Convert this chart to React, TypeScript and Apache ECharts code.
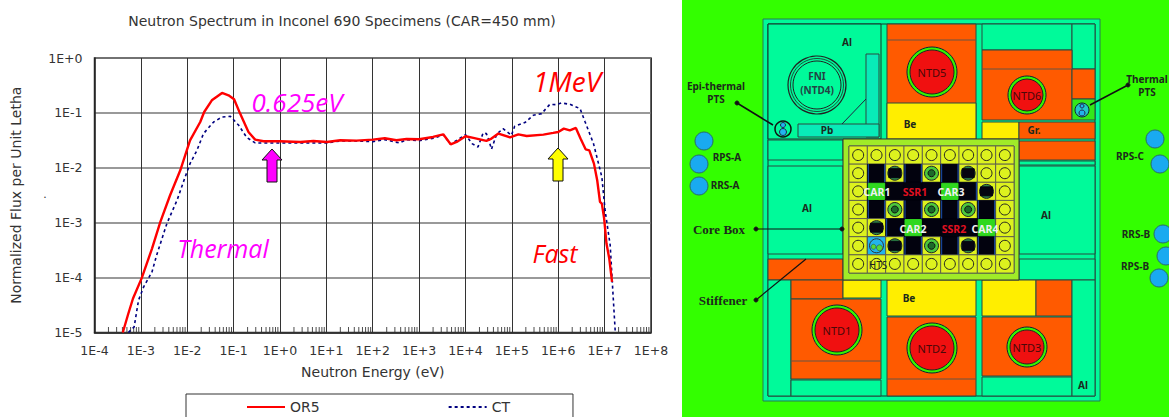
import React, { useEffect, useRef } from "react";
import * as echarts from "echarts";

const xTickLabels = ["1E-4","1E-3","1E-2","1E-1","1E+0","1E+1","1E+2","1E+3","1E+4","1E+5","1E+6","1E+7","1E+8"];
const yTickLabels = ["1E-5","1E-4","1E-3","1E-2","1E-1","1E+0"];

// log10(neutron energy, eV) and -log10(normalized flux)
const or5LogE = [-3.39,-3.27,-3.17,-2.98,-2.76,-2.58,-2.37,-2.15,-1.94,-1.72,-1.635,-1.47,-1.25,-1.11,-0.99,-0.86,-0.68,-0.535,-0.355,0,0.436,0.72,1.01,1.3,1.65,2,2.26,2.51,2.73,3,3.3,3.52,3.68,3.81,4,4.17,4.45,4.56,4.71,4.96,5.14,5.32,5.68,5.89,6,6.12,6.25,6.38,6.48,6.59,6.67,6.77,6.84,6.9,6.94,6.99,7.04,7.1,7.16];
const or5NegLogFlux = [5,4.654,4.381,4.005,3.471,2.985,2.5,2.045,1.499,1.165,0.983,0.771,0.637,0.68,0.752,1.013,1.347,1.487,1.517,1.517,1.529,1.511,1.529,1.499,1.505,1.487,1.462,1.499,1.475,1.481,1.438,1.39,1.572,1.529,1.426,1.456,1.511,1.468,1.377,1.444,1.39,1.42,1.396,1.365,1.347,1.286,1.317,1.274,1.468,1.663,1.681,1.924,2.227,2.621,2.652,2.925,3.38,3.653,4.078];
const ctLogE = [-3.27,-3.145,-3.05,-2.94,-2.76,-2.66,-2.44,-2.22,-2.045,-1.94,-1.79,-1.65,-1.43,-1.25,-1.07,-0.89,-0.715,-0.535,0,1.01,1.3,1.65,2,2.26,2.57,2.73,3,3.34,3.52,3.68,4,4.14,4.27,4.38,4.45,4.5,4.56,4.67,4.81,4.99,5.06,5.28,5.46,5.64,5.82,5.96,6.07,6.25,6.47,6.58,6.76,6.94,7.01,7.12,7.18,7.23];
const ctNegLogFlux = [5,4.897,4.411,4.169,3.896,3.592,3.016,2.591,2.166,1.924,1.681,1.377,1.165,1.074,1.062,1.226,1.45,1.547,1.547,1.547,1.511,1.511,1.523,1.487,1.547,1.487,1.505,1.456,1.396,1.572,1.396,1.559,1.62,1.365,1.377,1.487,1.663,1.39,1.286,1.408,1.244,1.177,1.044,1.013,0.843,0.85,0.819,0.843,0.922,1.165,1.559,2.166,2.773,3.41,4.29,5];

const toPairs = (xs: number[], ys: number[]) => xs.map((x, i) => [10 ** x, 10 ** -ys[i]]);

const decades = [-4,-3,-2,-1,0,1,2,3,4,5,6,7];
const multipliers = [2,3,4,5,6,7,8,9];
const minorTicks = decades.flatMap((d) => multipliers.map((m) => [m * 10 ** d, 1e-5]));

const ORANGE = "#FF5A00", YELLOW = "#FFEE00", TEAL = "#00FA9A", RED = "#F01010", LIME = "#33F500";
const LINE = "#2B4A40";

const rect = (x0: number, y0: number, x1: number, y1: number, fill: string, stroke = LINE, lineWidth = 1) => ({
  type: "rect", silent: true, shape: { x: x0, y: y0, width: x1 - x0, height: y1 - y0 }, style: { fill, stroke, lineWidth },
});
const circle = (cx: number, cy: number, r: number, fill: string, stroke = "#1a1a1a", lineWidth = 1) => ({
  type: "circle", silent: true, shape: { cx, cy, r }, style: { fill, stroke, lineWidth },
});
const seg = (x1: number, y1: number, x2: number, y2: number, stroke = "#111", lineWidth = 1) => ({
  type: "line", silent: true, shape: { x1, y1, x2, y2 }, style: { stroke, lineWidth },
});
const label = (x: number, y: number, text: string, fill = "#1c2a1c", font = "bold 10px 'Noto Sans'") => ({
  type: "text", silent: true, z: 20, x, y,
  style: { text, fill, font, align: "center", verticalAlign: "middle", textAlign: "center", textVerticalAlign: "middle" },
});
const arrow = (cx: number, top: number, bottom: number, fill: string) => ({
  type: "polygon", silent: true, z: 15,
  shape: { points: [[cx, top],[cx + 10, top + 11],[cx + 5, top + 11],[cx + 5, bottom],[cx - 5, bottom],[cx - 5, top + 11],[cx - 10, top + 11]] },
  style: { fill, stroke: "#111", lineWidth: 1 },
});
const reactor = (cx: number, cy: number, r: number, name: string) => [
  circle(cx, cy, r, LIME, "#123"),
  circle(cx, cy, r - 3, RED, "#222"),
  label(cx, cy, name, "#4a0808", "11px 'Noto Sans'"),
];

const coreRows = [
  "YYYYYYYYY",
  "YBDBGBDYY",
  "YBBBBBBDY",
  "YBGBGBGBY",
  "YDBBBBBBY",
  "YHDBGBDBY",
  "YYYYYYYYY",
];
const carCells = [[2,1],[2,5],[4,3],[4,7]];

function coreElements() {
  const out: any[] = [rect(843, 139, 1019, 280, "#A0EB28", "#333"), rect(849, 146, 1014, 273, "#000", "#444")];
  const w = (1014 - 849) / 9, h = (273 - 146) / 7;
  coreRows.forEach((row, r) => {
    [...row].forEach((c, i) => {
      const x = 849 + i * w, y = 146 + r * h, cx = x + w / 2, cy = y + h / 2;
      if (c === "B") {
        out.push(rect(x, y, x + w, y + h, "#02020e", "#02020e", 0.6));
        return;
      }
      out.push(rect(x, y, x + w, y + h, "#DDF21E", "#555", 0.8));
      if (c === "Y") out.push(circle(cx, cy, 5.5, "#DDF21E", "#222", 1));
      if (c === "D") { out.push(circle(cx, cy, 7, "#2E8B4A", "#222", 1)); out.push(rect(cx - 6, cy - 4.5, cx + 6, cy + 4.5, "#050510", "#050510")); }
      if (c === "G") { out.push(circle(cx, cy, 7, "#4CC83C", "#222", 1)); out.push(circle(cx, cy, 3.5, "#1c6a2a", "#111", 1)); }
      if (c === "H") {
        out.push(rect(x, y, x + w, y + h, "#22B4EC", "#444", 0.8));
        out.push(circle(cx, cy, 7, "#22B4EC", "#333", 1));
        out.push(circle(cx + 3, cy + 2, 3, "#52D93C", "#333", 0.5));
        out.push(circle(cx - 3, cy + 1, 2.5, "#52D93C", "#333", 0.5));
      }
    });
  });
  coreRows.forEach((row, r) => {
    [...row].forEach((c, i) => {
      if (c !== "B") return;
      const x = 849 + i * w, y = 146 + r * h;
      if (row[i - 1] !== "B") out.push(seg(x + 1, y, x + 1, y + h, "#1A4FB0", 1));
      if (row[i + 1] !== "B") out.push(seg(x + w - 1, y, x + w - 1, y + h, "#1A4FB0", 1));
    });
  });
  carCells.forEach(([r, i]) => {
    const x = 849 + i * w, y = 146 + r * h;
    out.push(rect(x + 1, y + 1, x + w - 1, y + h - 1, "#2FD81E", "#2FD81E"));
  });
  const white = "bold 10.5px 'Noto Sans'";
  out.push(label(877, 192, "CAR1", "#F0F0F0", white), label(951, 192, "CAR3", "#F0F0F0", white),
    label(913, 229, "CAR2", "#F0F0F0", white), label(985, 229, "CAR4", "#F0F0F0", white),
    label(915, 192, "SSR1", "#E01020", white), label(954, 229, "SSR2", "#E01020", white),
    label(878, 265, "HTS", "#222", "10px 'Noto Sans'"));
  return out;
}

function schematic() {
  const serif = "bold 13px 'Liberation Serif'";
  return [
    rect(682, 0, 1169, 417, "#33FF00", "none", 0),
    rect(763, 19, 1100, 401, TEAL, "#2A7A55"),
    rect(768, 24, 1095, 396, TEAL, "#17352b"),
    // top left
    rect(768, 24, 881, 139, TEAL, "#17352b"),
    rect(866, 54, 879, 137, "#08EBB8", LINE),
    rect(798, 124, 879, 137, "#08EBB8", LINE),
    seg(842, 124, 866, 99, "#224"),
    circle(817, 85, 29, TEAL, "#222", 1.2), circle(817, 85, 26.5, TEAL, "#222", 0.8), circle(817, 85, 24, TEAL, "#222", 1),
    label(817, 76, "FNI", "#244", "bold 10px 'Noto Sans'"), label(817, 90, "(NTD4)", "#244", "bold 10px 'Noto Sans'"),
    circle(783, 129, 8, TEAL, "#111", 1.5), circle(783, 125, 2.5, "#22B4EC", "#225"), circle(783, 132, 3.5, "#22B4EC", "#225"),
    label(847, 42, "Al"), label(827, 130, "Pb"),
    // top middle
    rect(887, 24, 976, 139, ORANGE, LINE), seg(887, 40, 976, 40, "#654"), rect(887, 103, 976, 139, YELLOW, LINE),
    ...reactor(932, 72, 25, "NTD5"), label(910, 124, "Be"),
    // top right
    rect(982, 24, 1072, 50, TEAL, LINE), rect(1072, 24, 1095, 69, TEAL, LINE),
    rect(982, 50, 1072, 120, ORANGE, LINE), seg(982, 69, 1072, 69, "#654"),
    rect(1072, 69, 1095, 99, ORANGE, LINE), rect(1072, 99, 1095, 120, "#33E81A", LINE),
    circle(1082, 110, 7, "#22C8C8", "#123"), circle(1082, 106, 2, "#22B4EC", "#225"), circle(1082, 113, 3, "#22B4EC", "#225"),
    ...reactor(1027, 95, 19, "NTD6"),
    rect(982, 122, 1019, 139, YELLOW, LINE), rect(1019, 122, 1095, 139, ORANGE, LINE), rect(1019, 141, 1095, 160, ORANGE, LINE),
    rect(1019, 161, 1095, 165, TEAL, LINE), rect(1019, 166, 1095, 254, TEAL, LINE), rect(1019, 259, 1095, 280, TEAL, LINE),
    label(1034, 130, "Gr."), label(1046, 215, "Al"),
    // left band
    rect(768, 140, 843, 160, TEAL, LINE), rect(768, 166, 843, 254, TEAL, LINE), rect(768, 259, 843, 280, ORANGE, LINE),
    label(807, 208, "Al"),
    // bottom left
    rect(768, 280, 791, 396, TEAL, LINE), rect(791, 280, 843, 299, ORANGE, LINE), rect(843, 280, 881, 298, YELLOW, LINE),
    rect(791, 299, 881, 379, ORANGE, LINE), seg(791, 361, 881, 361, "#654"), rect(791, 380, 881, 396, TEAL, LINE),
    ...reactor(837, 330, 25, "NTD1"),
    // bottom middle
    rect(887, 280, 976, 316, YELLOW, LINE), rect(887, 317, 976, 396, ORANGE, LINE), seg(887, 379, 976, 379, "#654"),
    ...reactor(932, 348, 25, "NTD2"), label(909, 298, "Be"),
    // bottom right
    rect(982, 280, 1036, 316, YELLOW, LINE), rect(1036, 280, 1072, 316, ORANGE, LINE),
    rect(982, 317, 1072, 376, ORANGE, LINE), rect(982, 377, 1072, 396, TEAL, LINE), rect(1072, 280, 1095, 396, TEAL, LINE),
    ...reactor(1027, 347, 20, "NTD3"), label(1083, 385, "Al"),
    ...coreElements(),
    // outside circles
    circle(704, 141, 9, "#19AAF0", "#2a6a6a"), circle(699, 164, 9, "#19AAF0", "#2a6a6a"), circle(699, 186, 9, "#19AAF0", "#2a6a6a"),
    circle(1155, 139, 9, "#19AAF0", "#2a6a6a"), circle(1160, 164, 9, "#19AAF0", "#2a6a6a"),
    circle(1163, 234, 9, "#19AAF0", "#2a6a6a"), circle(1166, 256, 9, "#19AAF0", "#2a6a6a"), circle(1159, 278, 9, "#19AAF0", "#2a6a6a"),
    // callouts
    seg(737, 103, 773, 125, "#111", 1.5), circle(737, 103, 2, "#111"),
    seg(1128, 85, 1090, 105, "#111", 1.5), circle(1128, 85, 2, "#111"),
    seg(756, 229, 843, 229, "#111", 1.2), circle(756, 229, 2, "#111"), circle(842, 229, 2, "#111"),
    seg(756, 300, 806, 259, "#111", 1.2), circle(756, 300, 2, "#111"),
    label(716, 86, "Epi-thermal"), label(716, 99, "PTS"),
    label(1147, 79, "Thermal"), label(1147, 92, "PTS"),
    label(727, 157, "RPS-A"), label(725, 185, "RRS-A"), label(1130, 156, "RPS-C"),
    label(1136, 234, "RRS-B"), label(1135, 266, "RPS-B"),
    label(719, 229, "Core Box", "#1c2a1c", serif), label(723, 300, "Stiffener", "#1c2a1c", serif),
  ];
}

function chartNotes() {
  const big = "italic 25px 'Open Sans'";
  return [
    label(297, 102, "0.625eV", "#FF00FF", "italic 26px 'Open Sans'"),
    label(567, 81, "1MeV", "#FF0000", "italic 28px 'Open Sans'"),
    label(223, 248, "Thermal", "#FF00FF", big),
    label(555, 253, "Fast", "#FF0000", big),
    arrow(272, 149, 182, "#FF00FF"),
    arrow(558, 148, 181, "#FFFF00"),
    label(45, 193, ".", "#333", "11px 'Noto Sans'"),
  ];
}

export default function App() {
  const ref = useRef<HTMLDivElement>(null);
  useEffect(() => {
    const chart = echarts.init(ref.current!, undefined, { renderer: "svg" });
    const font = "'DejaVu Sans'";
    chart.setOption({
      animation: false,
      backgroundColor: "#fff",
      title: {
        text: "Neutron Spectrum in Inconel 690 Specimens (CAR=450 mm)",
        left: 337, top: 9, textAlign: "center",
        textStyle: { fontSize: 14, fontWeight: "normal", color: "#333", fontFamily: font },
      },
      grid: { left: 94.5, top: 58, width: 556.5, height: 274.5, show: true, borderColor: "#333", borderWidth: 1.5, backgroundColor: "#fff" },
      legend: {
        left: 186, top: 394, orient: "horizontal", data: ["OR5", "CT"],
        padding: [6, 63, 8, 60], itemGap: 128, itemWidth: 38, itemHeight: 12,
        borderColor: "#333", borderWidth: 1, backgroundColor: "#fff",
        itemStyle: { opacity: 0 },
        textStyle: { fontSize: 14, color: "#333", fontFamily: font },
      },
      xAxis: {
        type: "log", logBase: 10, min: 1e-4, max: 1e8, interval: 1,
        name: "Neutron Energy (eV)", nameLocation: "middle", nameGap: 32,
        nameTextStyle: { fontSize: 14, color: "#333", fontFamily: font },
        axisLine: { show: true, onZero: false, lineStyle: { color: "#222", width: 1.5 } },
        axisTick: { show: false }, minorTick: { show: false },
        splitLine: { show: true, lineStyle: { color: "#333", width: 1 } },
        axisLabel: {
          interval: 0, margin: 11, fontSize: 12.5, color: "#333", fontFamily: font, showMinLabel: true, showMaxLabel: true,
          formatter: (v: number) => xTickLabels[Math.round(Math.log10(v)) + 4],
        },
      },
      yAxis: {
        type: "log", logBase: 10, min: 1e-5, max: 1, interval: 1,
        name: "Normalized Flux per Unit Letha", nameLocation: "middle", nameGap: 72,
        nameTextStyle: { fontSize: 14, color: "#333", fontFamily: font },
        axisLine: { show: true, lineStyle: { color: "#222", width: 1.5 } },
        axisTick: { show: false }, minorTick: { show: false },
        splitLine: { show: true, lineStyle: { color: "#777", width: 1.5 } },
        axisLabel: {
          interval: 0, margin: 12, fontSize: 12.5, color: "#333", fontFamily: font,
          formatter: (v: number) => yTickLabels[Math.round(Math.log10(v)) + 5],
        },
      },
      series: [
        {
          name: "ticks", type: "scatter", data: minorTicks, symbol: "rect", symbolSize: [1, 5], symbolOffset: [0, -3],
          itemStyle: { color: "#222" }, silent: true, clip: false, z: 3,
        },
        {
          name: "CT", type: "line", data: toPairs(ctLogE, ctNegLogFlux), showSymbol: false, symbol: "none", smooth: false,
          lineStyle: { color: "#000080", width: 1.6, type: [3, 3] }, itemStyle: { color: "#000080" }, z: 4,
        },
        {
          name: "OR5", type: "line", data: toPairs(or5LogE, or5NegLogFlux), showSymbol: false, symbol: "none", smooth: false,
          lineStyle: { color: "#FF0000", width: 2.4 }, itemStyle: { color: "#FF0000" }, z: 5,
        },
      ],
      graphic: { elements: [...chartNotes(), ...schematic()] },
    });
    return () => chart.dispose();
  }, []);
  return <div ref={ref} style={{ position: "fixed", left: 0, top: 0, width: 1169, height: 417, overflow: "hidden" }} />;
}
